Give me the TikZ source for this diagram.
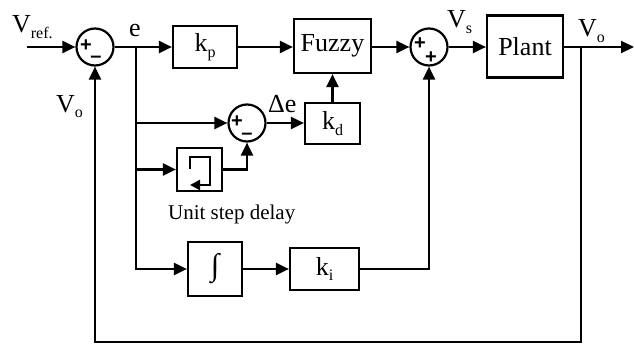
\documentclass[tikz,border=0pt]{standalone}
\usepackage{fontspec}
\setmainfont{Liberation Serif}
\setsansfont{Liberation Sans}
\usetikzlibrary{arrows.meta,calc}
\newcommand\lowsub[1]{\raisebox{-0.45ex}{\fontsize{16}{16}\selectfont #1}}
\begin{document}
\begin{tikzpicture}[x=1pt,y=-1pt, line width=2.2pt,
  blk/.style={draw, rectangle, inner sep=0pt, font=\fontsize{26}{26}\selectfont},
  sumc/.style={draw, circle, minimum size=37pt, inner sep=0pt},
  lbl/.style={inner sep=0pt, anchor=base west, font=\fontsize{26}{26}\selectfont},
  sgn/.style={inner sep=0pt, font=\fontsize{20}{20}\selectfont\bfseries\sffamily},
  arr/.style={-{Triangle[length=13pt,width=12pt]}}]
\useasboundingbox (0,0) rectangle (634,345);
% blocks
\node[sumc] (s1) at (95,47) {};
\node[blk, minimum width=64pt, minimum height=42pt] (kp) at (205,47) {k\lowsub{p}};
\node[blk, minimum width=77pt, minimum height=54pt] (fz) at (332.5,46) {Fuzzy};
\node[sumc] (s2) at (429,47) {};
\node[blk, minimum width=76pt, minimum height=62pt] (pl) at (525,46.5) {Plant};
\node[sumc] (s3) at (247,123) {};
\node[blk, minimum width=55pt, minimum height=41pt] (kd) at (332.5,123.5) {k\lowsub{d}};
\node[blk, minimum width=45pt, minimum height=43pt] (dl) at (199.5,169.5) {};
\node[blk, minimum width=54pt, minimum height=54pt, font=\fontsize{31}{31}\selectfont] (it) at (215,269) {∫};
\node[blk, minimum width=69pt, minimum height=42pt] (ki) at (324.5,269) {k\lowsub{i}};
% signs
\node[sgn] (p1) at ($(s1)+(-9,-1)$) {+};
\node[sgn] (m1) at ($(s1)+(1,12)$) {–};
\node[sgn] (p2) at ($(s2)+(-9,-3)$) {+};
\node[sgn] (p3) at ($(s2)+(2,11)$) {+};
\node[sgn] (p4) at ($(s3)+(-10,-1)$) {+};
\node[sgn] (m2) at ($(s3)+(0,13)$) {–};
% coordinates
\coordinate (vin) at (27,47);
\coordinate (br) at (136,47);
\coordinate (vo) at (581,47);
\coordinate (vout) at (634,47);
\coordinate (fb) at (581,342);
% connectors
\draw[arr] (vin) -- (s1);
\draw[arr] (s1) -- (kp);
\draw[arr] (kp) -- (kp -| fz.west);
\draw[arr] (fz.east |- s2) -- (s2);
\draw[arr] (s2) -- (s2 -| pl.west);
\draw[arr] (vo -| pl.east) -- (vout);
\draw[arr] (br) |- (s3.west);
\draw[arr] (br |- dl) -- (dl.west);
\draw[arr] (br) |- (it.west);
\draw[arr] (dl.east) -| (s3.south);
\draw[arr] (s3.east) -- (s3.east -| kd.west);
\draw[arr] (kd.north) -- (fz.south);
\draw[arr] (it) -- (ki);
\draw[arr] (ki.east) -| (s2.south);
\draw[arr] (vo) -- (fb) -| (s1.south);
% delay symbol
\draw[-{Triangle[length=10pt,width=10pt]}] (190,169) |- (210,157) |- (190,185);
% labels
\node[lbl] (lvref) at (11,33) {V\lowsub{ref.}};
\node[lbl] (le) at (128,37) {e};
\node[lbl] (lvo1) at (55,112) {V\lowsub{o}};
\node[lbl] (lde) at (267,112) {Δe};
\node[lbl] (lvs) at (446,28) {V\lowsub{s}};
\node[lbl] (lvo2) at (577,37) {V\lowsub{o}};
\node[lbl, font=\fontsize{21}{21}\selectfont] (lusd) at (167,219) {Unit step delay};
\end{tikzpicture}
\end{document}
